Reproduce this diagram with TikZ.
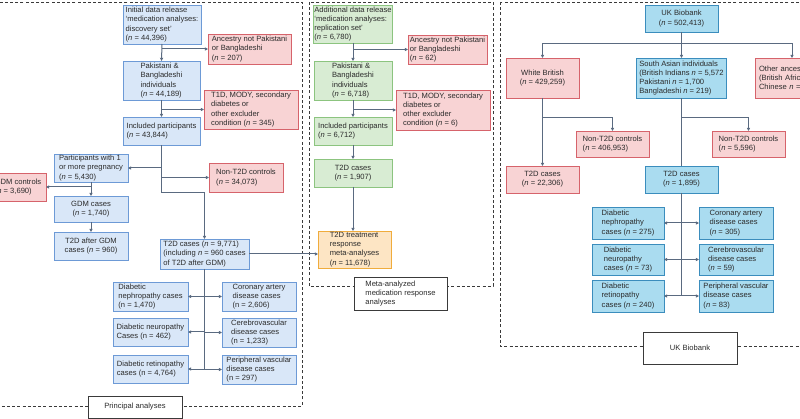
\documentclass[tikz,border=0pt]{standalone}
\usepackage{fontspec}
\setmainfont{Liberation Sans}
\usetikzlibrary{arrows.meta}
\definecolor{txt}{HTML}{2B2B2B}
\definecolor{conn}{HTML}{5A6A80}
\definecolor{bluef}{HTML}{D9E7F8}
\definecolor{blued}{HTML}{6D9AD6}
\definecolor{pinkf}{HTML}{F8D3D4}
\definecolor{pinkd}{HTML}{D6636B}
\definecolor{greenf}{HTML}{D8ECD3}
\definecolor{greend}{HTML}{8CC47F}
\definecolor{orangef}{HTML}{FDE5C4}
\definecolor{oranged}{HTML}{F0AC3C}
\definecolor{ukf}{HTML}{AADCF0}
\definecolor{ukd}{HTML}{3B8DBD}
\definecolor{frame}{HTML}{3A3A3A}
\newcommand{\nn}{\textit{n}}
\tikzset{
  box/.style={rectangle, line width=0.9pt, inner xsep=1pt, inner ysep=0.5pt, outer sep=0pt, align=left, text=txt},
  bluebox/.style={box, draw=blued, fill=bluef},
  pinkbox/.style={box, draw=pinkd, fill=pinkf},
  greenbox/.style={box, draw=greend, fill=greenf},
  orangebox/.style={box, draw=oranged, fill=orangef},
  ukbox/.style={box, draw=ukd, fill=ukf},
  labelbox/.style={rectangle, draw=frame, line width=0.9pt, fill=white, align=left, text=txt, inner sep=1pt},
  frameline/.style={draw=frame, line width=0.9pt, dash pattern=on 3pt off 2.2pt},
  line/.style={draw=conn, line width=1pt},
  arr/.style={line, -{Triangle[length=3.2pt,width=3.2pt]}}
}
\begin{document}
\begin{tikzpicture}[x=1pt, y=-1pt, font=\fontsize{7.6}{9.2}\selectfont]
\path[use as bounding box, clip] (0,0) rectangle (800,419);
\fill[white] (0,0) rectangle (800,419);

% dashed frames
\draw[frameline] (-5,2) rectangle (302,406);
\draw[frameline] (309,2) rectangle (493,286);
\draw[frameline] (500,2) rectangle (815,346);

% frame labels
\node[labelbox, minimum width=94, minimum height=22] (lab1) at (135,407) {Principal analyses};
\node[labelbox, minimum width=93, minimum height=33] (lab2) at (400.5,293.5) {Meta-analyzed\\medication response\\analyses};
\node[labelbox, minimum width=94, minimum height=32] (lab3) at (690,348) {UK Biobank};

% ---------- Principal analyses ----------
\node[bluebox, minimum width=78, minimum height=39] (init) at (162,24.5) {Initial data release\\‘medication analyses:\\discovery set’\\(\nn{} = 44,396)};
\node[pinkbox, minimum width=83, minimum height=30] (anc1) at (249.5,49) {Ancestry not Pakistani\\or Bangladeshi\\(\nn{} = 207)};
\node[bluebox, minimum width=77, minimum height=39] (pak1) at (161.5,80.5) {Pakistani \&\\Bangladeshi\\individuals\\(\nn{} = 44,189)};
\node[pinkbox, minimum width=94, minimum height=39] (t1d1) at (251,109.5) {T1D, MODY, secondary\\diabetes or\\other excluder\\condition (\nn{} = 345)};
\node[bluebox, minimum width=77, minimum height=28] (inc1) at (161.5,131) {Included participants\\(\nn{} = 43,844)};
\node[bluebox, minimum width=74, minimum height=28] (preg) at (91,168) {Participants with 1\\or more pregnancy\\(\nn{} = 5,430)};
\node[pinkbox, minimum width=74, minimum height=29] (non1) at (246,177.5) {Non-T2D controls\\(\nn{} = 34,073)};
\node[pinkbox, minimum width=56, minimum height=28] (gdmc) at (18,187) {GDM controls\\(\nn{} = 3,690)};
\node[bluebox, align=center, minimum width=74, minimum height=26] (gdm) at (91,209) {GDM cases\\(\nn{} = 1,740)};
\node[bluebox, align=center, minimum width=74, minimum height=28] (t2dgdm) at (91,246) {T2D after GDM\\cases (\nn{} = 960)};
\node[bluebox, minimum width=89, minimum height=30] (t2d1) at (204.5,254) {T2D cases (\nn{} = 9,771)\\(including \nn{} = 960 cases\\of T2D after GDM)};
\node[bluebox, minimum width=75, minimum height=29] (neph1) at (150.5,296.5) {Diabetic\\nephropathy cases\\(n = 1,470)};
\node[bluebox, minimum width=75, minimum height=28] (neur1) at (150.5,332) {Diabetic neuropathy\\Cases (n = 462)};
\node[bluebox, minimum width=75, minimum height=28] (ret1) at (150.5,369) {Diabetic retinopathy\\cases (n = 4,764)};
\node[bluebox, minimum width=74, minimum height=29] (cor1) at (259,296.5) {Coronary artery\\disease cases\\(n = 2,606)};
\node[bluebox, minimum width=74, minimum height=29] (cer1) at (259,332.5) {Cerebrovascular\\disease cases\\(n = 1,233)};
\node[bluebox, minimum width=74, minimum height=29] (per1) at (259,369.5) {Peripheral vascular\\disease cases\\(n = 297)};

\coordinate (j1) at (161.5,193);
\draw[arr] (init.south) -- (pak1.north);
\draw[arr] (init.south |- anc1.west) -- (anc1.west);
\draw[arr] (pak1.south) -- (inc1.north);
\draw[arr] (pak1.south |- t1d1.west) -- (t1d1.west);
\draw[arr] (inc1.south) -- (j1) -| (t2d1.north);
\draw[arr] (inc1.south |- preg.east) -- (preg.east);
\draw[arr] (inc1.south |- non1.west) -- (non1.west);
\draw[arr] (preg.south) -- (gdm.north);
\draw[arr] (preg.south |- gdmc.east) -- (gdmc.east);
\draw[arr] (gdm.south) -- (t2dgdm.north);
\draw[line] (t2d1.south) -- (t2d1.south |- ret1.east);
\draw[arr] (t2d1.south |- neph1.east) -- (neph1.east);
\draw[arr] (t2d1.south |- neur1.east) -- (neur1.east);
\draw[arr] (t2d1.south |- ret1.east) -- (ret1.east);
\draw[arr] (t2d1.south |- cor1.west) -- (cor1.west);
\draw[arr] (t2d1.south |- cer1.west) -- (cer1.west);
\draw[arr] (t2d1.south |- per1.west) -- (per1.west);

% ---------- Meta-analyzed ----------
\node[greenbox, minimum width=78, minimum height=38] (add) at (353,24) {Additional data release\\‘medication analyses:\\replication set’\\(\nn{} = 6,780)};
\node[pinkbox, minimum width=79, minimum height=29] (anc2) at (447.5,49.5) {Ancestry not Pakistani\\or Bangladeshi\\(\nn{} = 62)};
\node[greenbox, minimum width=78, minimum height=39] (pak2) at (353,80.5) {Pakistani \&\\Bangladeshi\\individuals\\(\nn{} = 6,718)};
\node[pinkbox, minimum width=94, minimum height=40] (t1d2) at (443,110) {T1D, MODY, secondary\\diabetes or\\other excluder\\condition (\nn{} = 6)};
\node[greenbox, minimum width=78, minimum height=28] (inc2) at (353,131) {Included participants\\(\nn{} = 6,712)};
\node[greenbox, align=center, minimum width=78, minimum height=28] (t2d2) at (353,173) {T2D cases\\(\nn{} = 1,907)};
\node[orangebox, minimum width=73, minimum height=37] (treat) at (354.5,249.5) {T2D treatment\\response\\meta-analyses\\(\nn{} = 11,678)};

\draw[arr] (add.south) -- (pak2.north);
\draw[arr] (add.south |- anc2.west) -- (anc2.west);
\draw[arr] (pak2.south) -- (inc2.north);
\draw[arr] (pak2.south |- t1d2.west) -- (t1d2.west);
\draw[arr] (inc2.south) -- (t2d2.north);
\draw[arr] (t2d2.south) -- (t2d2.south |- treat.north);
\draw[arr] (t2d1.east) -- (t2d1.east -| treat.west);

% ---------- UK Biobank ----------
\node[ukbox, align=center, minimum width=73, minimum height=27] (ukb) at (681.5,18.5) {UK Biobank\\(\nn{} = 502,413)};
\node[pinkbox, align=center, minimum width=73, minimum height=40] (wb) at (542.5,78) {White British\\(\nn{} = 429,259)};
\node[ukbox, minimum width=90, minimum height=40] (sa) at (681.5,78) {South Asian individuals\\(British Indians \nn{} = 5,572\\Pakistani \nn{} = 1,700\\Bangladeshi \nn{} = 219)};
\node[pinkbox, text width=66, inner xsep=4pt, minimum height=40] (oth) at (792,78) {Other ancestries\\(British African\\Chinese \nn{} =};
\node[pinkbox, minimum width=73, minimum height=26] (non2) at (612.5,144) {Non-T2D controls\\(\nn{} = 406,953)};
\node[pinkbox, minimum width=73, minimum height=26] (non3) at (748.5,144) {Non-T2D controls\\(\nn{} = 5,596)};
\node[pinkbox, align=center, minimum width=73, minimum height=27] (wbt) at (542.5,179.5) {T2D cases\\(\nn{} = 22,306)};
\node[ukbox, align=center, minimum width=73, minimum height=27] (sat) at (681.5,179.5) {T2D cases\\(\nn{} = 1,895)};
\node[ukbox, minimum width=72, minimum height=32] (neph2) at (628,223) {Diabetic\\nephropathy\\cases (\nn{} = 275)};
\node[ukbox, minimum width=72, minimum height=31] (neur2) at (628,259.5) {Diabetic\\neuropathy\\cases (\nn{} = 73)};
\node[ukbox, minimum width=72, minimum height=32] (ret2) at (628,296) {Diabetic\\retinopathy\\cases (\nn{} = 240)};
\node[ukbox, minimum width=74, minimum height=32] (cor2) at (736,223) {Coronary artery\\disease cases\\(\nn{} = 305)};
\node[ukbox, minimum width=74, minimum height=31] (cer2) at (736,259.5) {Cerebrovascular\\disease cases\\(\nn{} = 59)};
\node[ukbox, minimum width=74, minimum height=32] (per2) at (736,296) {Peripheral vascular\\disease cases\\(\nn{} = 83)};

\coordinate (uj) at (681.5,44);
\coordinate (wj) at (542.5,118);
\coordinate (sj) at (681.5,118);
\draw[line] (ukb.south) -- (uj);
\draw[arr] (uj) -| (wb.north);
\draw[arr] (uj) -- (sa.north);
\draw[arr] (uj) -| (oth.north);
\draw[arr] (wb.south) -- (wbt.north);
\draw[arr] (wj) -| (non2.north);
\draw[line] (sa.south) -- (sat.north);
\draw[arr] (sj) -| (non3.north);
\draw[line] (sat.south) -- (sat.south |- ret2.east);
\draw[arr] (sat.south |- neph2.east) -- (neph2.east);
\draw[arr] (sat.south |- neur2.east) -- (neur2.east);
\draw[arr] (sat.south |- ret2.east) -- (ret2.east);
\draw[arr] (sat.south |- cor2.west) -- (cor2.west);
\draw[arr] (sat.south |- cer2.west) -- (cer2.west);
\draw[arr] (sat.south |- per2.west) -- (per2.west);
\end{tikzpicture}
\end{document}
